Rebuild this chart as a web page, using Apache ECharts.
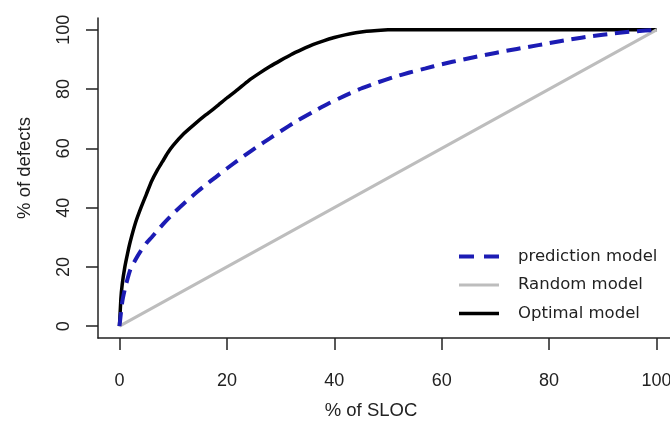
<!DOCTYPE html>
<html>
<head>
<meta charset="utf-8">
<script src="https://cdn.jsdelivr.net/npm/echarts@6/dist/echarts.min.js"></script>
<style>
  html, body { margin: 0; padding: 0; background: #fff; }
  #main { width: 670px; height: 423px; }
</style>
</head>
<body>
<div id="main"></div>
<script>
// tick labels
var ticks = [0, 20, 40, 60, 80, 100];

// optimal model (% of SLOC -> % of defects)
var optX = [0, 0.25, 0.5, 1, 1.5, 2, 3, 4, 5, 6, 7, 8, 9, 10, 12, 14, 16, 18, 20, 22, 24, 26, 28, 30, 32, 34, 36, 38, 40, 42, 44, 46, 48, 50, 100];
var optY = [0, 9, 14, 20, 24.5, 28.5, 35, 40, 44.5, 49, 52.5, 55.5, 58.5, 61, 65, 68.2, 71.2, 74, 77, 79.8, 82.8, 85.3, 87.6, 89.7, 91.7, 93.4, 95, 96.3, 97.4, 98.3, 99, 99.5, 99.8, 100, 100];

// prediction model
var predX = [0, 0.5, 1, 2, 3, 4, 5, 6, 8, 10, 12, 14, 16, 18, 20, 22, 24, 26, 28, 30, 33, 36, 39, 42, 45, 48, 51, 54, 57, 60, 64, 68, 72, 76, 80, 84, 88, 92, 96, 100];
var predY = [0, 8, 12.5, 19, 22.5, 25.5, 28, 30, 34.2, 38, 41.4, 44.6, 47.6, 50.4, 53.2, 55.9, 58.5, 61, 63.4, 65.8, 69.2, 72.3, 75.2, 77.8, 80.2, 82.2, 84, 85.6, 87, 88.4, 90, 91.5, 92.9, 94.2, 95.5, 96.8, 97.9, 98.8, 99.5, 100];

// random model
var randX = [0, 100];
var randY = [0, 100];

function pairs(xs, ys) {
  var out = [];
  for (var i = 0; i < xs.length; i++) {
    out.push([xs[i], ys[i]]);
  }
  return out;
}

var myChart = echarts.init(document.getElementById('main'));

var axisFont = 'Liberation Sans, Arial, sans-serif';

var option = {
  backgroundColor: '#fff',
  animation: false,
  grid: {
    left: 98,
    top: 18,
    width: 580,
    height: 320,
    outerBoundsMode: 'none',
    containLabel: false
  },
  legend: {
    orient: 'vertical',
    left: 452,
    top: 243,
    itemWidth: 40,
    itemHeight: 16,
    itemGap: 11.5,
    data: [
      { name: 'prediction model', lineStyle: { width: 4, type: [15, 10] } },
      { name: 'Random model', lineStyle: { width: 3 } },
      { name: 'Optimal model', lineStyle: { width: 3.5 } }
    ],
    itemStyle: { opacity: 0 },
    textStyle: {
      fontFamily: 'DejaVu Sans, sans-serif',
      fontSize: 16.5,
      color: '#222',
      padding: [0, 0, 0, 14]
    }
  },
  xAxis: {
    type: 'value',
    min: -4,
    max: 104,
    name: '% of SLOC',
    nameLocation: 'middle',
    nameGap: 63,
    nameTextStyle: {
      fontFamily: axisFont,
      fontSize: 18.5,
      color: '#222',
      padding: [0, 34, 0, 0]
    },
    axisLine: { show: true, onZero: false, lineStyle: { color: '#222', width: 1.5 } },
    axisTick: { show: true, length: 12, customValues: ticks, lineStyle: { color: '#222', width: 1.5 } },
    axisLabel: {
      customValues: ticks,
      margin: 34,
      fontFamily: axisFont,
      fontSize: 18,
      color: '#222'
    },
    splitLine: { show: false }
  },
  yAxis: {
    type: 'value',
    min: -4,
    max: 104,
    name: '% of defects',
    nameLocation: 'middle',
    nameGap: 64,
    nameTextStyle: {
      fontFamily: axisFont,
      fontSize: 18.5,
      color: '#222',
      padding: [0, 0, 0, 20]
    },
    axisLine: { show: true, onZero: false, lineStyle: { color: '#222', width: 1.5 } },
    axisTick: { show: true, length: 12, customValues: ticks, lineStyle: { color: '#222', width: 1.5 } },
    axisLabel: {
      customValues: ticks,
      rotate: 90,
      margin: 25,
      fontFamily: axisFont,
      fontSize: 18,
      color: '#222'
    },
    splitLine: { show: false }
  },
  series: [
    {
      name: 'Optimal model',
      type: 'line',
      symbol: 'none',
      smooth: 0.2,
      data: pairs(optX, optY),
      lineStyle: { color: '#000', width: 3.5 },
      itemStyle: { color: '#000' }
    },
    {
      name: 'Random model',
      type: 'line',
      symbol: 'none',
      data: pairs(randX, randY),
      lineStyle: { color: '#bdbdbd', width: 3 },
      itemStyle: { color: '#bdbdbd' }
    },
    {
      name: 'prediction model',
      type: 'line',
      symbol: 'none',
      smooth: 0.2,
      data: pairs(predX, predY),
      lineStyle: { color: '#1c1cb4', width: 4, type: [14, 8] },
      itemStyle: { color: '#1c1cb4' }
    }
  ]
};

myChart.setOption(option);
</script>
</body>
</html>
